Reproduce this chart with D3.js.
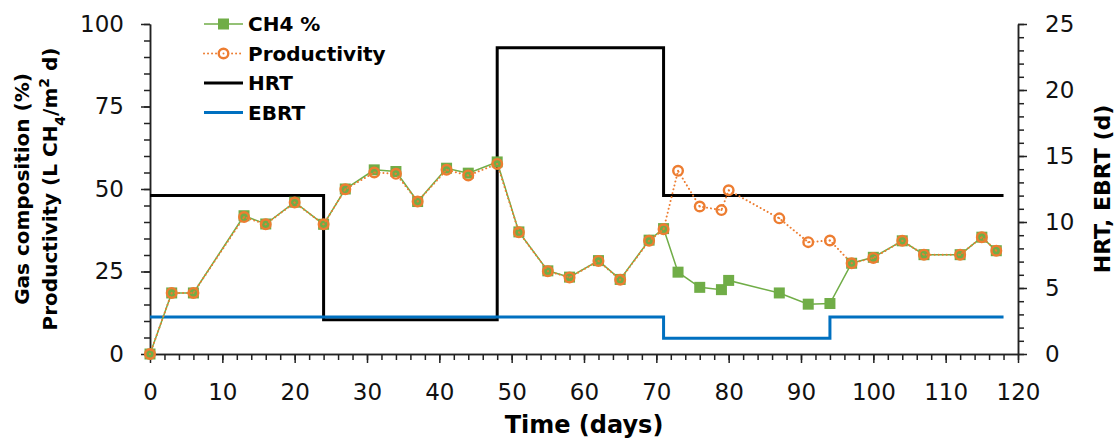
<!DOCTYPE html>
<html>
<head>
<meta charset="utf-8">
<script src="https://cdn.jsdelivr.net/npm/d3@7"></script>
<style>
  body { margin: 0; background: #fff; }
  svg text { font-family: "DejaVu Sans", Verdana, sans-serif; }
</style>
</head>
<body>
<div id="chart"></div>
<script>
// sampling days
const days = [0, 3, 6, 13, 16, 20, 24, 27, 31, 34, 37, 41, 44, 48, 51, 55, 58, 62, 65, 69, 71,
  73, 76, 79, 80, 87, 91, 94, 97, 100, 104, 107, 112, 115, 117];
// methane content of the biogas (%)
const ch4 = [0, 18.5, 18.5, 41.9, 39.4, 46, 39.3, 50, 55.8, 55.3, 46.2, 56.3, 54.8, 58.2, 37, 25.2, 23.3, 28.3, 22.6, 34.5, 38,
  24.8, 20.2, 19.5, 22.3, 18.5, 15.1, 15.3, 27.5, 29.3, 34.3, 30.1, 30.1, 35.4, 31.3];
// productivity (L CH4/m2 d)
const productivity = [0, 18.5, 18.5, 41.5, 39.3, 45.9, 39.3, 49.9, 55, 54.6, 46.2, 55.8, 54.1, 57.6, 36.9, 25.1, 23.2, 28.2, 22.5, 34.3, 37.8,
  55.5, 44.7, 43.6, 49.6, 41.1, 33.9, 34.4, 27.5, 29.1, 34.3, 30.1, 30.1, 35.4, 31.3];
// hydraulic / empty bed retention times (d), step changes
const hrtDays = [0, 24, 48, 71, 118];
const hrtVals = [12, 2.6, 23.2, 12, 12];
const ebrtDays = [0, 71, 94, 118];
const ebrtVals = [2.8, 1.2, 2.8, 2.8];

const leftTicks = [0, 25, 50, 75, 100];
const rightTicks = [0, 5, 10, 15, 20, 25];
const xTicks = d3.range(0, 121, 10);

const margin = {top: 24, right: 98, bottom: 87, left: 150},
    width = 1116 - margin.left - margin.right,
    height = 441 - margin.top - margin.bottom;

const svg = d3.select("#chart")
    .append("svg")
    .attr("width", 1116)
    .attr("height", 441)
    .append("g")
    .attr("transform", `translate(${margin.left},${margin.top})`);

const x = d3.scaleLinear().domain([0, 120]).range([0, width]);
const yL = d3.scaleLinear().domain([0, 100]).range([height, 0]);
const yR = d3.scaleLinear().domain([0, 25]).range([height, 0]);

const axisColor = "#222";
function styleAxis(g) {
    g.selectAll("path, line").attr("stroke", axisColor).attr("stroke-width", 1.5);
    g.selectAll("text").attr("fill", "#111").style("font-size", "23px");
}

// X axis: minor every 2 days, major every 10
svg.append("g")
    .attr("transform", `translate(0,${height})`)
    .call(d3.axisBottom(x).tickValues(d3.range(0, 121, 2)).tickSize(6).tickFormat("").tickSizeOuter(0))
    .call(styleAxis);
svg.append("g")
    .attr("transform", `translate(0,${height})`)
    .call(d3.axisBottom(x).tickValues(xTicks).tickSize(9).tickPadding(21).tickSizeOuter(0))
    .call(styleAxis);

// left axis
svg.append("g")
    .call(d3.axisLeft(yL).tickValues(d3.range(0, 101, 5)).tickSize(6).tickFormat("").tickSizeOuter(0))
    .call(styleAxis);
svg.append("g")
    .call(d3.axisLeft(yL).tickValues(leftTicks).tickSize(9).tickPadding(17).tickSizeOuter(0))
    .call(styleAxis);

// right axis
svg.append("g")
    .attr("transform", `translate(${width},0)`)
    .call(d3.axisRight(yR).tickValues(d3.range(0, 26, 1)).tickSize(6).tickFormat("").tickSizeOuter(0))
    .call(styleAxis);
svg.append("g")
    .attr("transform", `translate(${width},0)`)
    .call(d3.axisRight(yR).tickValues(rightTicks).tickSize(9).tickPadding(18).tickSizeOuter(0))
    .call(styleAxis);

// step lines on the right axis
const step = d3.line().curve(d3.curveStepAfter).x(d => x(d[0])).y(d => yR(d[1]));
svg.append("path")
    .datum(d3.zip(hrtDays, hrtVals))
    .attr("d", step)
    .attr("fill", "none")
    .attr("stroke", "#000")
    .attr("stroke-width", 3);
svg.append("path")
    .datum(d3.zip(ebrtDays, ebrtVals))
    .attr("d", step)
    .attr("fill", "none")
    .attr("stroke", "#0070C0")
    .attr("stroke-width", 3);

const green = "#70AD47", orange = "#ED7D31";
const line = d3.line().x(d => x(d[0])).y(d => yL(d[1]));

// CH4 %
const ch4Data = d3.zip(days, ch4);
svg.append("path")
    .datum(ch4Data)
    .attr("d", line)
    .attr("fill", "none")
    .attr("stroke", green)
    .attr("stroke-width", 1.5);
svg.selectAll("rect.ch4")
    .data(ch4Data)
    .join("rect")
    .attr("class", "ch4")
    .attr("x", d => x(d[0]) - 5.5)
    .attr("y", d => yL(d[1]) - 5.5)
    .attr("width", 11)
    .attr("height", 11)
    .attr("fill", green);

// productivity
const prodData = d3.zip(days, productivity);
svg.append("path")
    .datum(prodData)
    .attr("d", line)
    .attr("fill", "none")
    .attr("stroke", orange)
    .attr("stroke-width", 2)
    .attr("stroke-linecap", "round")
    .attr("stroke-dasharray", "0.01 4");
svg.selectAll("circle.prod")
    .data(prodData)
    .join("circle")
    .attr("class", "prod")
    .attr("cx", d => x(d[0]))
    .attr("cy", d => yL(d[1]))
    .attr("r", 4.8)
    .attr("fill", "none")
    .attr("stroke", orange)
    .attr("stroke-width", 2.4);
svg.selectAll("circle.dot")
    .data(prodData)
    .join("circle")
    .attr("class", "dot")
    .attr("cx", d => x(d[0]))
    .attr("cy", d => yL(d[1]))
    .attr("r", 1)
    .attr("fill", orange);

// legend
const legend = svg.append("g").attr("transform", `translate(${204 - margin.left},${24 - margin.top})`);
const items = [
    {name: "CH4 %", type: "ch4"},
    {name: "Productivity", type: "prod"},
    {name: "HRT", type: "hrt"},
    {name: "EBRT", type: "ebrt"}
];
items.forEach((it, i) => {
    const g = legend.append("g").attr("transform", `translate(0,${i * 29.5})`);
    if (it.type === "ch4") {
        g.append("line").attr("x1", 0).attr("x2", 39).attr("stroke", green).attr("stroke-width", 1.5);
        g.append("rect").attr("x", 14).attr("y", -5.5).attr("width", 11).attr("height", 11).attr("fill", green);
    } else if (it.type === "prod") {
        g.append("line").attr("x1", 0).attr("x2", 39).attr("stroke", orange).attr("stroke-width", 2)
            .attr("stroke-linecap", "round").attr("stroke-dasharray", "0.01 4");
        g.append("circle").attr("cx", 19.5).attr("r", 4.8).attr("fill", "#fff").attr("stroke", orange).attr("stroke-width", 2.4);
        g.append("circle").attr("cx", 19.5).attr("r", 1).attr("fill", orange);
    } else {
        g.append("line").attr("x1", 0).attr("x2", 39)
            .attr("stroke", it.type === "hrt" ? "#000" : "#0070C0").attr("stroke-width", 3);
    }
    g.append("text")
        .attr("x", 44)
        .attr("dy", "0.36em")
        .style("font-size", "20px")
        .style("font-weight", "bold")
        .text(it.name);
});

// axis titles
svg.append("text")
    .attr("x", width / 2)
    .attr("y", height + 79)
    .attr("text-anchor", "middle")
    .style("font-size", "24px")
    .style("font-weight", "bold")
    .text("Time (days)");

const leftTitle = svg.append("text")
    .attr("transform", `translate(${22 - margin.left + 7},${height / 2}) rotate(-90)`)
    .attr("text-anchor", "middle")
    .style("font-size", "20px")
    .style("font-weight", "bold");
leftTitle.append("tspan").attr("x", 0).attr("y", 0).text("Gas composition (%)");
const l2 = leftTitle.append("tspan").attr("x", 0).attr("y", 28);
l2.append("tspan").text("Productivity (L CH");
l2.append("tspan").attr("baseline-shift", "sub").style("font-size", "14px").text("4");
l2.append("tspan").text("/m");
l2.append("tspan").attr("baseline-shift", "super").style("font-size", "14px").text("2");
l2.append("tspan").text(" d)");

svg.append("text")
    .attr("transform", `translate(${1102 - margin.left + 8},${height / 2}) rotate(-90)`)
    .attr("text-anchor", "middle")
    .style("font-size", "22px")
    .style("font-weight", "bold")
    .text("HRT, EBRT (d)");
</script>
</body>
</html>
